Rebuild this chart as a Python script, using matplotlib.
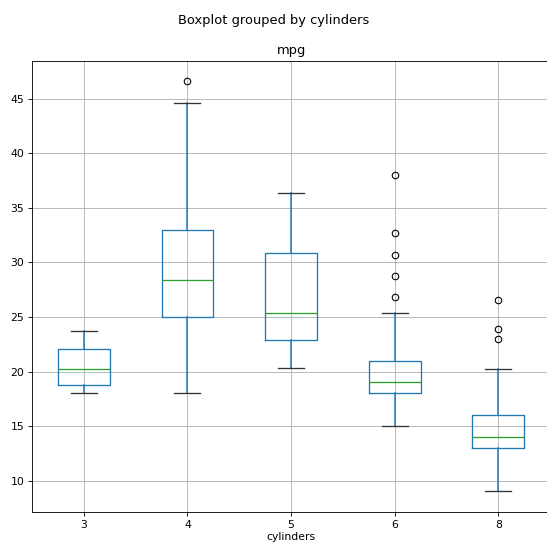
import matplotlib
matplotlib.use("Agg")
import matplotlib.pyplot as plt

# summary statistics of mpg per cylinder count
cylinders = ["3", "4", "5", "6", "8"]
whislo = [18.0, 18.0, 20.3, 15.0, 9.0]
q1 = [18.75, 25.0, 22.85, 18.0, 13.0]
med = [20.25, 28.4, 25.4, 19.0, 14.0]
q3 = [22.05, 32.95, 30.9, 21.0, 16.0]
whishi = [23.7, 44.6, 36.4, 25.4, 20.2]
fliers = [[], [46.6], [], [26.8, 28.8, 30.7, 32.7, 38.0], [23.0, 23.9, 26.6]]

stats = []
for i, name in enumerate(cylinders):
    stats.append({
        "label": name, "whislo": whislo[i], "q1": q1[i], "med": med[i],
        "q3": q3[i], "whishi": whishi[i], "fliers": fliers[i],
    })

DPI = 78.14
fig = plt.figure(figsize=(547 / DPI, 546 / DPI), dpi=DPI)
ax = fig.add_axes([0.0585, 0.0623, 0.947, 0.826])

ax.bxp(stats, widths=0.5,
       boxprops=dict(color="#1f77b4", linewidth=1.2),
       whiskerprops=dict(color="#1f77b4", linewidth=1.4),
       capprops=dict(color="#333333", linewidth=1.2),
       medianprops=dict(color="#2ca02c", linewidth=1.2),
       flierprops=dict(marker="o", markerfacecolor="none", markeredgecolor="black"))

ax.grid(True)
ax.set_title("mpg")
ax.set_xlabel("cylinders", labelpad=2)
fig.suptitle("Boxplot grouped by cylinders", y=0.974)

fig.savefig("out.png", dpi=DPI)
